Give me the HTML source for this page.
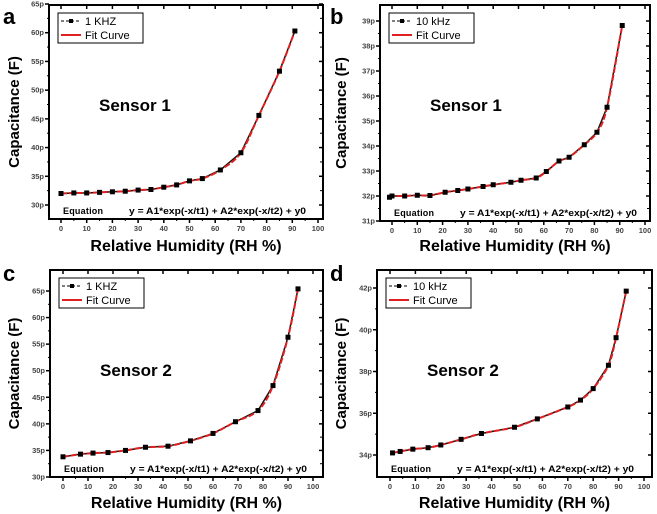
<!DOCTYPE html>
<html><head><meta charset="utf-8"><style>
body{margin:0;background:#fff;font-family:"Liberation Sans",sans-serif}
svg{display:block}
</style></head><body>
<svg id="fig" width="657" height="514" viewBox="0 0 657 514"></svg>
<script>
const aX=[0,5,10,15,20,25,30,35,40,45,50,55,62,70,77,85,91];
const aY=[32,32.1,32.1,32.2,32.3,32.4,32.6,32.7,33.1,33.5,34.2,34.6,36.1,39.1,45.6,53.3,60.3];
const bX=[-1,0,5,10,15,21,26,30,36,40,47,51,57,61,66,70,76,81,85,91];
const bY=[31.95,32,32,32.03,32.02,32.15,32.22,32.28,32.38,32.45,32.55,32.63,32.72,32.98,33.4,33.55,34.05,34.55,35.55,38.82];
const cX=[0,7,12,18,25,33,42,51,60,69,78,84,90,94];
const cY=[33.8,34.3,34.5,34.6,35,35.6,35.8,36.8,38.2,40.4,42.5,47.2,56.3,65.4];
const dX=[1,4,9,15,20,28,36,49,58,70,75,80,86,89,93];
const dY=[34.1,34.17,34.28,34.35,34.48,34.75,35.03,35.33,35.73,36.3,36.63,37.18,38.3,39.62,41.85];
const xTicks=[0,10,20,30,40,50,60,70,80,90,100];
const aTicks=[30,35,40,45,50,55,60,65];
const bTicks=[31,32,33,34,35,36,37,38,39];
const cTicks=[30,35,40,45,50,55,60,65];
const dTicks=[34,36,38,40,42];

const NS="http://www.w3.org/2000/svg";
const svg=document.getElementById('fig');
function mk(tag,attrs,parent,text){const e=document.createElementNS(NS,tag);for(const k in attrs)e.setAttribute(k,attrs[k]);if(text!==undefined)e.textContent=text;(parent||svg).appendChild(e);return e;}

const panels=[
 {id:'a',X:aX,Y:aY,yt:aTicks,L:49,R:323,T:5,B:219,x0:61,x100:318,ya:65,yaP:4,yb:30,ybP:205,leg:'1 KHZ',sensor:'Sensor 1',ox:0,oy:0},
 {id:'b',X:bX,Y:bY,yt:bTicks,L:380,R:650,T:5,B:221,x0:392,x100:645,ya:39,yaP:21,yb:31,ybP:221,leg:'10 kHz',sensor:'Sensor 1',ox:327,oy:0},
 {id:'c',X:cX,Y:cY,yt:cTicks,L:50,R:323,T:270,B:477,x0:63,x100:313,ya:65,yaP:291,yb:30,ybP:477,leg:'1 KHZ',sensor:'Sensor 2',ox:0,oy:257},
 {id:'d',X:dX,Y:dY,yt:dTicks,L:377,R:652,T:270,B:477,x0:390,x100:644,ya:42,yaP:288,yb:34,ybP:455,leg:'10 kHz',sensor:'Sensor 2',ox:327,oy:257}
];

function smooth(pts){let d='M'+pts[0][0]+','+pts[0][1];
 for(let i=0;i<pts.length-1;i++){const p0=pts[Math.max(0,i-1)],p1=pts[i],p2=pts[i+1],p3=pts[Math.min(pts.length-1,i+2)];
 const c1=[p1[0]+(p2[0]-p0[0])/6,p1[1]+(p2[1]-p0[1])/6],c2=[p2[0]-(p3[0]-p1[0])/6,p2[1]-(p3[1]-p1[1])/6];
 d+=' C'+c1.join(',')+' '+c2.join(',')+' '+p2.join(',');}return d;}

panels.forEach(p=>{
 const g=mk('g',{});
 
 
 const sx=v=>p.x0+(p.x100-p.x0)*v/100;
 const sy=v=>p.yaP+(p.ybP-p.yaP)*(p.ya-v)/(p.ya-p.yb);
 const fr=mk('rect',{x:p.L,y:p.T,width:p.R-p.L,height:p.B-p.T,fill:'none',stroke:'#000','stroke-width':2},g);
 
 
 xTicks.forEach(t=>{const x=sx(t);
  mk('line',{x1:x,x2:x,y1:p.B,y2:p.B+4,stroke:'#000','stroke-width':1.5},g);
  mk('line',{x1:x,x2:x,y1:p.T,y2:p.T+4,stroke:'#000','stroke-width':1.5},g);
  const mx=sx(t+5); if(t<100){mk('line',{x1:mx,x2:mx,y1:p.B,y2:p.B+2,stroke:'#000'},g);}
  const tl=mk('text',{x:x,y:p.B+12,'font-size':7.5,'font-weight':'bold',fill:'#444','text-anchor':'middle'},g,String(t));
  
  
 });
 p.yt.forEach((t,i)=>{const y=sy(t);
  mk('line',{x1:p.L-4,x2:p.L,y1:y,y2:y,stroke:'#000','stroke-width':1.5},g);
  mk('line',{x1:p.R-4,x2:p.R,y1:y,y2:y,stroke:'#000','stroke-width':1.5},g);
  if(i<p.yt.length-1){const my=sy((t+p.yt[i+1])/2);mk('line',{x1:p.L-2,x2:p.L,y1:my,y2:my,stroke:'#000'},g);mk('line',{x1:p.R-3,x2:p.R,y1:my,y2:my,stroke:'#000'},g);}
  const tl=mk('text',{x:p.L-5,y:y+2.5,'font-size':7.5,'font-weight':'bold',fill:'#444','text-anchor':'end'},g,t+'p');
  
  
 });
 const pts=p.X.map((x,i)=>[sx(x),sy(p.Y[i])]);
 const dl=mk('polyline',{points:pts.map(q=>q.join(',')).join(' '),fill:'none',stroke:'#111','stroke-width':1.5},g);
 
 
 const fc=mk('path',{d:smooth(pts),fill:'none',stroke:'#e02020','stroke-width':2,'stroke-dasharray':'6,2'},g);
 
 
 pts.forEach(q=>{const m=mk('rect',{x:q[0]-2.5,y:q[1]-2.5,width:5,height:5,fill:'#000'},g);
  
  });
 const lx=p.L+9,ly=p.T+8;
 const lg=mk('g',{},g);
 
 
 mk('rect',{x:lx,y:ly,width:85,height:30,fill:'#fff',stroke:'#000','stroke-width':1},lg);
 mk('line',{x1:lx+3,x2:lx+23,y1:ly+8,y2:ly+8,stroke:'#333','stroke-width':1.2,'stroke-dasharray':'3,2'},lg);
 mk('rect',{x:lx+11,y:ly+6,width:4,height:4,fill:'#000'},lg);
 mk('text',{x:lx+27,y:ly+12,'font-size':11,fill:'#000'},lg,p.leg);
 mk('line',{x1:lx+3,x2:lx+23,y1:ly+22,y2:ly+22,stroke:'#e02020','stroke-width':2},lg);
 mk('text',{x:lx+27,y:ly+26,'font-size':11,fill:'#000'},lg,'Fit Curve');
 const se=mk('text',{x:p.L+50,y:p.T+106,'font-size':17,'font-weight':'bold',fill:'#000'},g,p.sensor);
 
 
 const eq=mk('text',{x:p.L+14,y:p.B-5,'font-size':9,'font-weight':'bold',fill:'#000',textLength:40},g,'Equation');
 
 
 const f=mk('text',{x:p.L+80,y:p.B-5,'font-size':9,'font-weight':'bold',fill:'#000',textLength:177,lengthAdjust:'spacingAndGlyphs'},g,'y = A1*exp(-x/t1) + A2*exp(-x/t2) + y0');
 
 
 const pl=mk('text',{x:p.ox+3,y:p.oy+24,'font-size':22,'font-weight':'bold',fill:'#000'},g,p.id);
 
 
 const cy=(p.T+p.B)/2;
 const yt=mk('text',{x:p.ox+19,y:cy,'font-size':15,'font-weight':'bold',fill:'#000','text-anchor':'middle',transform:'rotate(-90 '+(p.ox+19)+' '+cy+')'},g,'Capacitance (F)');
 
 
 const xt=mk('text',{x:(p.L+p.R)/2,y:p.oy+251,'font-size':16,'font-weight':'bold',fill:'#000','text-anchor':'middle'},g,'Relative Humidity (RH %)');
 
 
});
</script>
</body></html>
